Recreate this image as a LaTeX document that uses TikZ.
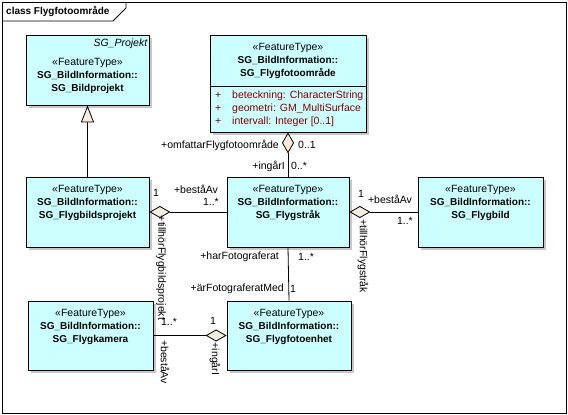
\documentclass[tikz,border=0pt]{standalone}
\usepackage{fontspec}
\setmainfont{Liberation Sans}
\usetikzlibrary{arrows.meta,positioning,shadows}
\definecolor{klassfarg}{RGB}{204,255,255}
\definecolor{attrfarg}{RGB}{128,0,0}
\definecolor{rutfarg}{RGB}{248,236,222}
\tikzset{
  klass/.style={draw,fill=klassfarg,line width=0.8pt,inner sep=0pt,
    drop shadow={shadow xshift=3pt,shadow yshift=-3pt,fill=black!22,opacity=1}},
  klasstext/.style={align=center,inner sep=0pt,font=\fontsize{10.5}{13}\selectfont},
  etikett/.style={inner sep=0pt,font=\fontsize{10.5}{13}\selectfont},
  linje/.style={line width=0.8pt},
}
\newcommand{\Fet}[1]{{\fontsize{10}{13}\selectfont\bfseries #1}}
\newcommand{\Klass}[5][8pt]% text offset, pos, name, size, class name
{\node[klass,#4] (#3) at (#2) {};
  \node[klasstext,below=#1] (#3-t) at (#3.north)
    {«FeatureType»\\\Fet{SG\_BildInformation::}\\\Fet{SG\_#5}};
}
\newcommand{\Aggr}[2]% diamond end, other end
{\draw[linje,{Diamond[length=21pt,width=12pt,fill=rutfarg]}-] (#1) -- (#2);}

\begin{document}
\begin{tikzpicture}[x=1pt,y=-1pt]
  \useasboundingbox (0,0) rectangle (568,415);
  \draw[linje] (2,2) rectangle (566,413);
  \draw[linje] (2,21) -- (113,21) -- (126,8) -- (126,2);
  \node[etikett,anchor=west,font=\fontsize{10}{13}\selectfont\bfseries] (titel) at (6,11) {class Flygfotoområde};

  % klasser
  \Klass[23pt]{87.5,70}{bp}{minimum width=123pt,minimum height=70pt}{Bildprojekt}
  \node[etikett,anchor=north east,font=\fontsize{10.5}{13}\selectfont\itshape] (bp-abs) at ([xshift=-2pt,yshift=-4pt]bp.north east) {SG\_Projekt};
  \Klass{288,83.5}{omr}{minimum width=156pt,minimum height=97pt}{Flygfotoområde}
  \draw[linje] (omr.west |- 0,86) -- (omr.east |- 0,86);
  \node[etikett,anchor=west,align=left,text=attrfarg] (omr-a) at (215,109)
    {\makebox[17pt][l]{+}beteckning: CharacterString\\
     \makebox[17pt][l]{+}geometri: GM\_MultiSurface\\
     \makebox[17pt][l]{+}intervall: Integer [0..1]};
  \Klass{87.5,212}{fbp}{minimum width=123pt,minimum height=70pt}{Flygbildsprojekt}
  \Klass{288,212}{str}{minimum width=122pt,minimum height=70pt}{Flygstråk}
  \Klass{480.5,212}{fb}{minimum width=125pt,minimum height=70pt}{Flygbild}
  \Klass{90.5,335.5}{fk}{minimum width=125pt,minimum height=69pt}{Flygkamera}
  \Klass{289,335.5}{fe}{minimum width=124pt,minimum height=69pt}{Flygfotoenhet}

  % kopplingar
  \draw[linje,-{Triangle[length=17pt,width=13pt,fill=rutfarg]}] (fbp.north) -- (bp.south);
  \Aggr{omr.south}{str.north}
  \Aggr{fbp.east}{str.west}
  \Aggr{str.east}{fb.west}
  \Aggr{fe.west}{fk.east}
  \draw[linje] (str.south) -- (fe.north);

  % roller och multipliciteter
  \node[etikett,anchor=east] (r1) at (279,145) {+omfattarFlygfotoområde};
  \node[etikett,anchor=west] (m1) at (298,145) {0..1};
  \node[etikett,anchor=east] (r2) at (285,166) {+ingårI};
  \node[etikett,anchor=west] (m2) at (291,166) {0..*};
  \node[etikett] (m3) at (156,193) {1};
  \node[etikett] (r3) at (196,189) {+beståAv};
  \node[etikett,anchor=east] (m4) at (219,202) {1..*};
  \node[etikett,rotate=-90] (r4) at (161,268) {+tillhörFlygbildsprojekt};
  \node[etikett] (m5) at (361,194) {1};
  \node[etikett] (r5) at (390,199) {+beståAv};
  \node[etikett,anchor=east] (m6) at (413,221) {1..*};
  \node[etikett,rotate=-90] (r6) at (363,256) {+tillhörFlygstråk};
  \node[etikett,anchor=east] (r7) at (279,257) {+harFotograferat};
  \node[etikett,anchor=west] (m7) at (298,257) {1..*};
  \node[etikett,anchor=east] (r8) at (284,289) {+ärFotograferatMed};
  \node[etikett,anchor=west] (m8) at (290,289) {1};
  \node[etikett] (m9) at (169,322) {1..*};
  \node[etikett,rotate=-90] (r9) at (165,362) {+beståAv};
  \node[etikett] (m10) at (213,321) {1};
  \node[etikett,rotate=-90] (r10) at (215,359) {+ingårI};
\end{tikzpicture}
\end{document}
